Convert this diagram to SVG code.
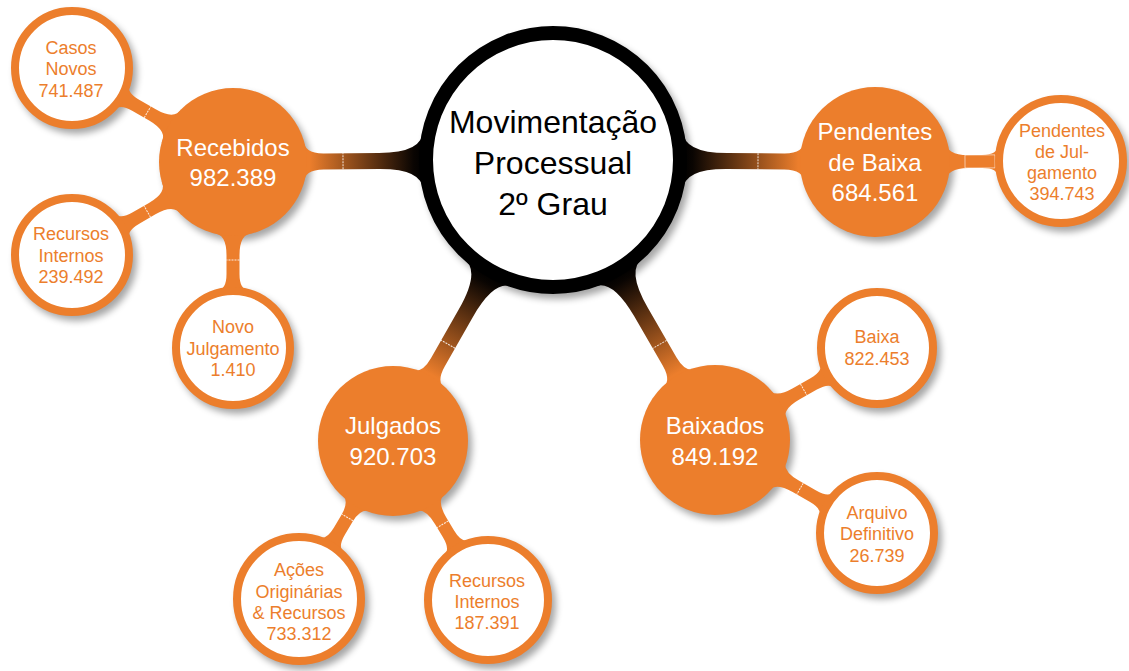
<svg xmlns="http://www.w3.org/2000/svg" width="1129" height="671" viewBox="0 0 1129 671">
<defs>
<style>
.fill{fill:#EC7E2C}
.ring{fill:#fff;stroke:#EC7E2C;stroke-width:8}
.oc{fill:#EC7E2C}
.mc{fill:url(#gm)}
.tick{stroke:#fff;stroke-width:1;stroke-dasharray:2 1;opacity:.85}
.big{font-family:"Liberation Sans",Arial,sans-serif;font-size:24px;fill:#fff;text-anchor:middle}
.sm{font-family:"Liberation Sans",Arial,sans-serif;font-size:18px;fill:#EC7E2C;text-anchor:middle}
.ctr{font-family:"Liberation Sans",Arial,sans-serif;font-size:32px;fill:#000;text-anchor:middle}
</style>
<linearGradient id="gm" x1="0" y1="0" x2="1" y2="0">
<stop offset="0" stop-color="#000"/>
<stop offset="0.08" stop-color="#0a0502"/>
<stop offset="0.95" stop-color="#EC7E2C"/>
</linearGradient>
<filter id="blur" x="-20%" y="-20%" width="140%" height="140%"><feGaussianBlur stdDeviation="3.5"/></filter>
</defs>
<rect width="1129" height="671" fill="#fff"/>
<g id="shadows" transform="translate(4,5)" filter="url(#blur)" fill="#000" opacity="0.35">
<circle cx="553" cy="160" r="134"/>
<circle cx="233" cy="162" r="74"/>
<circle cx="875" cy="162" r="75"/>
<circle cx="393" cy="441" r="75"/>
<circle cx="715" cy="440" r="75"/>
<circle cx="72" cy="68" r="61"/>
<circle cx="72" cy="255" r="61"/>
<circle cx="233" cy="348" r="61"/>
<circle cx="299" cy="599" r="66"/>
<circle cx="488" cy="600" r="64"/>
<circle cx="877" cy="348" r="60"/>
<circle cx="877" cy="533" r="61"/>
<circle cx="1061" cy="161" r="66"/>
</g>
<g id="connectors">
<g transform="translate(553,160) rotate(179.64)">
<path class="mc" d="M130,-30 Q130,-8 174,-8 L229.3,-8 Q249.3,-8 249.3,-22 L249.3,22 Q249.3,8 229.3,8 L174,8 Q130,8 130,30 Z"/>
<line class="tick" x1="210" y1="-8" x2="210" y2="8"/>
</g>
<g transform="translate(553,160) rotate(0.36)">
<path class="mc" d="M130,-30 Q130,-8 174,-8 L231.3,-8 Q251.3,-8 251.3,-22 L251.3,22 Q251.3,8 231.3,8 L174,8 Q130,8 130,30 Z"/>
<line class="tick" x1="205" y1="-8" x2="205" y2="8"/>
</g>
<g transform="translate(553,160) rotate(119.65)">
<path class="mc" d="M130,-30 Q130,-8 176,-8 L232.7,-8 Q252.7,-8 252.7,-22 L252.7,22 Q252.7,8 232.7,8 L176,8 Q130,8 130,30 Z"/>
<line class="tick" x1="212" y1="-8" x2="212" y2="8"/>
</g>
<g transform="translate(553,160) rotate(59.94)">
<path class="mc" d="M130,-30 Q130,-8 176,-8 L232.8,-8 Q252.8,-8 252.8,-22 L252.8,22 Q252.8,8 232.8,8 L176,8 Q130,8 130,30 Z"/>
<line class="tick" x1="213" y1="-8" x2="213" y2="8"/>
</g>
<g transform="translate(233,162) rotate(-149.72)">
<path class="oc" d="M71.3,-20 Q71.3,-6.5 93.3,-6.5 L112.5,-6.5 Q128.5,-6.5 128.5,-16 L128.5,16 Q128.5,6.5 112.5,6.5 L93.3,6.5 Q71.3,6.5 71.3,20 Z"/>
<line class="tick" x1="99" y1="-6.5" x2="99" y2="6.5"/>
</g>
<g transform="translate(233,162) rotate(150)">
<path class="oc" d="M71.3,-20 Q71.3,-6.5 93.3,-6.5 L112,-6.5 Q128,-6.5 128,-16 L128,16 Q128,6.5 112,6.5 L93.3,6.5 Q71.3,6.5 71.3,20 Z"/>
<line class="tick" x1="99" y1="-6.5" x2="99" y2="6.5"/>
</g>
<g transform="translate(233,162) rotate(90)">
<path class="oc" d="M71.3,-20 Q71.3,-6.5 93.3,-6.5 L112.1,-6.5 Q128.1,-6.5 128.1,-16 L128.1,16 Q128.1,6.5 112.1,6.5 L93.3,6.5 Q71.3,6.5 71.3,20 Z"/>
<line class="tick" x1="98" y1="-6.5" x2="98" y2="6.5"/>
</g>
<g transform="translate(393,441) rotate(120.75)">
<path class="oc" d="M71.3,-20 Q71.3,-6.5 90,-6.5 L104.8,-6.5 Q120.8,-6.5 120.8,-16 L120.8,16 Q120.8,6.5 104.8,6.5 L90,6.5 Q71.3,6.5 71.3,20 Z"/>
<line class="tick" x1="89" y1="-6.5" x2="89" y2="6.5"/>
</g>
<g transform="translate(393,441) rotate(59.14)">
<path class="oc" d="M71.3,-20 Q71.3,-6.5 93.3,-6.5 L108.2,-6.5 Q124.2,-6.5 124.2,-16 L124.2,16 Q124.2,6.5 108.2,6.5 L93.3,6.5 Q71.3,6.5 71.3,20 Z"/>
<line class="tick" x1="97" y1="-6.5" x2="97" y2="6.5"/>
</g>
<g transform="translate(715,440) rotate(-29.6)">
<path class="oc" d="M71.3,-20 Q71.3,-6.5 93.3,-6.5 L113.5,-6.5 Q129.5,-6.5 129.5,-16 L129.5,16 Q129.5,6.5 113.5,6.5 L93.3,6.5 Q71.3,6.5 71.3,20 Z"/>
<line class="tick" x1="102" y1="-6.5" x2="102" y2="6.5"/>
</g>
<g transform="translate(715,440) rotate(29.86)">
<path class="oc" d="M71.3,-20 Q71.3,-6.5 93.3,-6.5 L112.9,-6.5 Q128.9,-6.5 128.9,-16 L128.9,16 Q128.9,6.5 112.9,6.5 L93.3,6.5 Q71.3,6.5 71.3,20 Z"/>
<line class="tick" x1="98" y1="-6.5" x2="98" y2="6.5"/>
</g>
<g transform="translate(875,162) rotate(-0.3)">
<path class="oc" d="M71.3,-20 Q71.3,-6.5 93.3,-6.5 L107,-6.5 Q123,-6.5 123,-16 L123,16 Q123,6.5 107,6.5 L93.3,6.5 Q71.3,6.5 71.3,20 Z"/>
<rect x="90" y="-6.5" width="30" height="13" fill="none" stroke="#fff" stroke-width="0.8" opacity="0.7"/>
</g>
</g>
<g id="center">
<circle cx="553" cy="160" r="127" fill="#fff" stroke="#000" stroke-width="14"/>
<text class="ctr" x="553" y="133">Movimentação</text>
<text class="ctr" x="553" y="174">Processual</text>
<text class="ctr" x="553" y="215">2º Grau</text>
</g>
<g id="recebidos">
<circle class="fill" cx="233" cy="162" r="74"/>
<text class="big" x="233" y="156">Recebidos</text>
<text class="big" x="233" y="186">982.389</text>
</g>
<g id="pendentes-baixa">
<circle class="fill" cx="875" cy="162" r="75"/>
<text class="big" x="875" y="140">Pendentes</text>
<text class="big" x="875" y="171">de Baixa</text>
<text class="big" x="875" y="201">684.561</text>
</g>
<g id="julgados">
<circle class="fill" cx="393" cy="441" r="75"/>
<text class="big" x="393" y="434">Julgados</text>
<text class="big" x="393" y="465">920.703</text>
</g>
<g id="baixados">
<circle class="fill" cx="715" cy="440" r="75"/>
<text class="big" x="715" y="434">Baixados</text>
<text class="big" x="715" y="465">849.192</text>
</g>
<g id="casos-novos">
<circle class="ring" cx="72" cy="68" r="57"/>
<text class="sm" x="71" y="54">Casos</text>
<text class="sm" x="71" y="75">Novos</text>
<text class="sm" x="71" y="97">741.487</text>
</g>
<g id="recursos-internos-1">
<circle class="ring" cx="72" cy="255" r="57"/>
<text class="sm" x="71" y="240">Recursos</text>
<text class="sm" x="71" y="262">Internos</text>
<text class="sm" x="71" y="283">239.492</text>
</g>
<g id="novo-julgamento">
<circle class="ring" cx="233" cy="348" r="57"/>
<text class="sm" x="233" y="333">Novo</text>
<text class="sm" x="233" y="355">Julgamento</text>
<text class="sm" x="233" y="376">1.410</text>
</g>
<g id="acoes-originarias">
<circle class="ring" cx="299" cy="599" r="62"/>
<text class="sm" x="299" y="576">Ações</text>
<text class="sm" x="299" y="598">Originárias</text>
<text class="sm" x="299" y="619">&amp; Recursos</text>
<text class="sm" x="299" y="640">733.312</text>
</g>
<g id="recursos-internos-2">
<circle class="ring" cx="488" cy="600" r="60"/>
<text class="sm" x="487" y="587">Recursos</text>
<text class="sm" x="487" y="608">Internos</text>
<text class="sm" x="487" y="629">187.391</text>
</g>
<g id="baixa">
<circle class="ring" cx="877" cy="348" r="56"/>
<text class="sm" x="877" y="343">Baixa</text>
<text class="sm" x="877" y="365">822.453</text>
</g>
<g id="arquivo-definitivo">
<circle class="ring" cx="877" cy="533" r="57"/>
<text class="sm" x="877" y="519">Arquivo</text>
<text class="sm" x="877" y="540">Definitivo</text>
<text class="sm" x="877" y="562">26.739</text>
</g>
<g id="pendentes-julgamento">
<circle class="ring" cx="1061" cy="161" r="62"/>
<text class="sm" x="1062" y="137">Pendentes</text>
<text class="sm" x="1062" y="158">de Jul-</text>
<text class="sm" x="1062" y="179">gamento</text>
<text class="sm" x="1062" y="200">394.743</text>
</g>
</svg>
